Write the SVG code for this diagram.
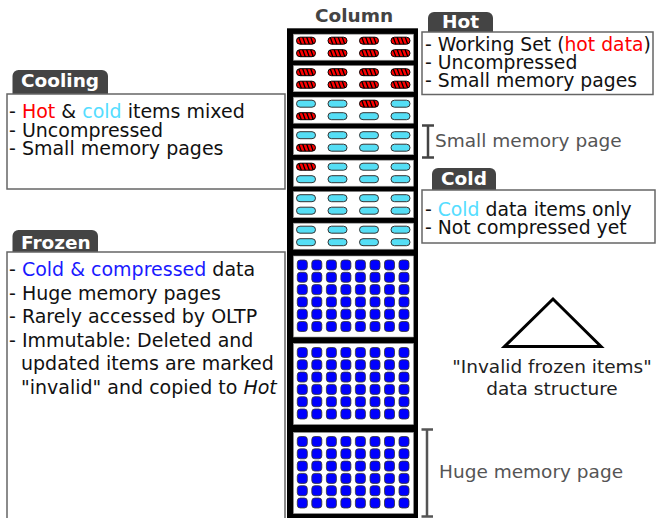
<svg xmlns="http://www.w3.org/2000/svg" width="658" height="518" viewBox="0 0 658 518">
<style>
text{font-family:"DejaVu Sans","Liberation Sans",sans-serif;font-size:18.5px;fill:#111}
.bt{font-size:19px}
.tabt{font-weight:bold;fill:#fff}
.tab{fill:#444}
.box{fill:#fff;stroke:#666;stroke-width:1.5}
.page{fill:#fff;stroke:#999;stroke-width:0.6}
.note{fill:#555}
.brk{stroke:#444;stroke-width:2.5;fill:none}
.red{fill:#f00}
.cyan{fill:#55ddff}
.blue{fill:#1a1aff}
</style>
<defs>
<clipPath id="pc"><rect x="-9.5" y="-3.5" width="19" height="7" rx="3.5"/></clipPath>
<g id="hot"><rect x="-9.5" y="-3.5" width="19" height="7" rx="3.5" fill="#f00"/><path clip-path="url(#pc)" d="M-7.5,-4l3,8M-3.5,-4l3,8M0.5,-4l3,8M4.5,-4l3,8" stroke="#000" stroke-width="1.3"/><rect x="-9.5" y="-3.5" width="19" height="7" rx="3.5" fill="none" stroke="#000" stroke-width="1"/></g>
<rect id="cold" x="-9.5" y="-3.5" width="19" height="7" rx="3.5" fill="#55def5" stroke="#333" stroke-width="1"/>
<rect id="sq" width="10" height="10" rx="3" fill="#0000ff" stroke="#333" stroke-width="0.8"/>
<g id="frow"><use href="#sq" x="297.3"/><use href="#sq" x="311.8"/><use href="#sq" x="326.4"/><use href="#sq" x="340.9"/><use href="#sq" x="355.4"/><use href="#sq" x="370"/><use href="#sq" x="384.5"/><use href="#sq" x="399"/></g>
</defs>
<rect width="658" height="518" fill="#fff"/>

<g id="column">
<text x="354" y="21.5" text-anchor="middle" style="font-weight:bold;fill:#444">Column</text>
<rect x="287" y="28.3" width="131" height="500" fill="#000"/>
<rect class="page" x="293.5" y="34.2" width="120" height="26"/>
<rect class="page" x="293.5" y="65.7" width="120" height="26"/>
<rect class="page" x="293.5" y="97.2" width="120" height="26"/>
<rect class="page" x="293.5" y="128.7" width="120" height="26"/>
<rect class="page" x="293.5" y="160.2" width="120" height="26"/>
<rect class="page" x="293.5" y="191.7" width="120" height="26"/>
<rect class="page" x="293.5" y="223.2" width="120" height="26"/>
<rect class="page" x="293.5" y="256" width="120" height="81"/>
<rect class="page" x="293.5" y="343.5" width="120" height="81"/>
<rect class="page" x="293.5" y="432.5" width="120" height="81"/>
<g id="page1">
<use href="#hot" x="306" y="40.7"/><use href="#hot" x="337.5" y="40.7"/><use href="#hot" x="369" y="40.7"/><use href="#hot" x="400.5" y="40.7"/>
<use href="#hot" x="306" y="53.2"/><use href="#hot" x="337.5" y="53.2"/><use href="#hot" x="369" y="53.2"/><use href="#hot" x="400.5" y="53.2"/>
</g>
<g id="page2">
<use href="#hot" x="306" y="72.2"/><use href="#hot" x="337.5" y="72.2"/><use href="#hot" x="369" y="72.2"/><use href="#hot" x="400.5" y="72.2"/>
<use href="#hot" x="306" y="84.7"/><use href="#hot" x="337.5" y="84.7"/><use href="#hot" x="369" y="84.7"/><use href="#hot" x="400.5" y="84.7"/>
</g>
<g id="page3">
<use href="#cold" x="306" y="103.7"/><use href="#cold" x="337.5" y="103.7"/><use href="#hot" x="369" y="103.7"/><use href="#cold" x="400.5" y="103.7"/>
<use href="#hot" x="306" y="116.2"/><use href="#cold" x="337.5" y="116.2"/><use href="#cold" x="369" y="116.2"/><use href="#cold" x="400.5" y="116.2"/>
</g>
<g id="page4">
<use href="#cold" x="306" y="135.2"/><use href="#cold" x="337.5" y="135.2"/><use href="#cold" x="369" y="135.2"/><use href="#cold" x="400.5" y="135.2"/>
<use href="#hot" x="306" y="147.7"/><use href="#cold" x="337.5" y="147.7"/><use href="#cold" x="369" y="147.7"/><use href="#cold" x="400.5" y="147.7"/>
</g>
<g id="page5">
<use href="#hot" x="306" y="166.7"/><use href="#cold" x="337.5" y="166.7"/><use href="#cold" x="369" y="166.7"/><use href="#cold" x="400.5" y="166.7"/>
<use href="#cold" x="306" y="179.2"/><use href="#cold" x="337.5" y="179.2"/><use href="#cold" x="369" y="179.2"/><use href="#cold" x="400.5" y="179.2"/>
</g>
<g id="page6">
<use href="#cold" x="306" y="198.2"/><use href="#cold" x="337.5" y="198.2"/><use href="#cold" x="369" y="198.2"/><use href="#cold" x="400.5" y="198.2"/>
<use href="#cold" x="306" y="210.7"/><use href="#cold" x="337.5" y="210.7"/><use href="#cold" x="369" y="210.7"/><use href="#cold" x="400.5" y="210.7"/>
</g>
<g id="page7">
<use href="#cold" x="306" y="229.7"/><use href="#cold" x="337.5" y="229.7"/><use href="#cold" x="369" y="229.7"/><use href="#cold" x="400.5" y="229.7"/>
<use href="#cold" x="306" y="242.2"/><use href="#cold" x="337.5" y="242.2"/><use href="#cold" x="369" y="242.2"/><use href="#cold" x="400.5" y="242.2"/>
</g>
<g id="frozen-page1">
<use href="#frow" y="260"/><use href="#frow" y="272.3"/><use href="#frow" y="284.6"/><use href="#frow" y="296.9"/><use href="#frow" y="309.2"/><use href="#frow" y="321.5"/>
</g>
<g id="frozen-page2">
<use href="#frow" y="347.5"/><use href="#frow" y="359.8"/><use href="#frow" y="372.1"/><use href="#frow" y="384.4"/><use href="#frow" y="396.7"/><use href="#frow" y="409"/>
</g>
<g id="frozen-page3">
<use href="#frow" y="436.5"/><use href="#frow" y="448.8"/><use href="#frow" y="461.1"/><use href="#frow" y="473.4"/><use href="#frow" y="485.7"/><use href="#frow" y="498"/>
</g>
</g>

<g id="hot-label">
<path class="tab" d="M428,33V18a6,6 0 0 1 6,-6H487a6,6 0 0 1 6,6V33Z"/>
<text class="tabt" x="442" y="27.5">Hot</text>
<rect class="box" x="422" y="32" width="231" height="62.5"/>
<text class="bt" x="425" y="51" style="font-size:18.8px">- Working Set (<tspan class="red">hot data</tspan>)</text>
<text class="bt" x="425" y="68.5" style="font-size:18.8px">- Uncompressed</text>
<text class="bt" x="425" y="86.5" style="font-size:18.8px">- Small memory pages</text>
</g>

<g id="cooling-label">
<path class="tab" d="M12.5,95V76a6,6 0 0 1 6,-6H102a6,6 0 0 1 6,6V95Z"/>
<text class="tabt" x="21" y="87">Cooling</text>
<rect class="box" x="7" y="94" width="278" height="95"/>
<text class="bt" x="9" y="118">- <tspan class="red">Hot</tspan> &amp; <tspan class="cyan">cold</tspan> items mixed</text>
<text class="bt" x="9" y="136.5">- Uncompressed</text>
<text class="bt" x="9" y="155">- Small memory pages</text>
</g>

<g id="cold-label">
<path class="tab" d="M432,191V174a6,6 0 0 1 6,-6H490a6,6 0 0 1 6,6V191Z"/>
<text class="tabt" x="441" y="185">Cold</text>
<rect class="box" x="422" y="190" width="233" height="53"/>
<text class="bt" x="425" y="216" style="font-size:18.8px">- <tspan class="cyan">Cold</tspan> data items only</text>
<text class="bt" x="425" y="233.5" style="font-size:18.8px">- Not compressed yet</text>
</g>

<g id="frozen-label">
<path class="tab" d="M12.5,253V236a6,6 0 0 1 6,-6H92a6,6 0 0 1 6,6V253Z"/>
<text class="tabt" x="21" y="249">Frozen</text>
<rect class="box" x="7" y="252" width="278" height="280"/>
<text class="bt" x="9" y="276">- <tspan class="blue">Cold &amp; compressed</tspan> data</text>
<text class="bt" x="9" y="299.5">- Huge memory pages</text>
<text class="bt" x="9" y="323">- Rarely accessed by OLTP</text>
<text class="bt" x="9" y="346.5">- Immutable: Deleted and</text>
<text class="bt" x="21" y="370">updated items are marked</text>
<text class="bt" x="21" y="393.5">"invalid" and copied to <tspan font-style="italic">Hot</tspan></text>
</g>

<g id="small-page-annotation">
<path class="brk" d="M422,125.5H434M428,125.5V157.5M422,157.5H434"/>
<text class="note" x="435" y="147">Small memory page</text>
</g>

<g id="huge-page-annotation">
<path class="brk" d="M421.5,429.5H433M427,429.5V516.5M421.5,516.5H433" style="stroke:#555"/>
<text class="note" x="439" y="478">Huge memory page</text>
</g>

<g id="invalid-structure">
<polygon points="553,299 504.5,346.5 601,346.5" fill="#fff" stroke="#000" stroke-width="3"/>
<text x="552" y="373" text-anchor="middle" style="fill:#222">"Invalid frozen items"</text>
<text x="552" y="394.5" text-anchor="middle" style="fill:#222">data structure</text>
</g>
</svg>
